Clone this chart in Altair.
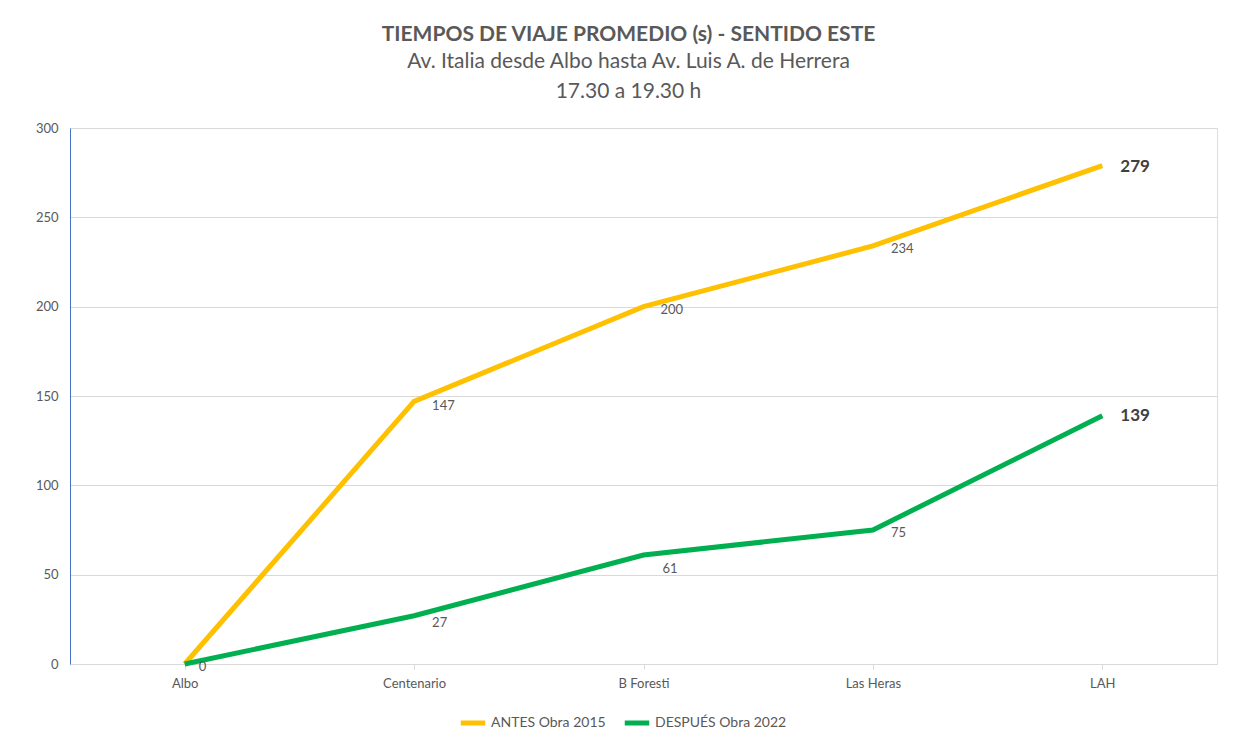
import altair as alt
import pandas as pd

categories = ["Albo", "Centenario", "B Foresti", "Las Heras", "LAH"]
antes = [0, 147, 200, 234, 279]
despues = [0, 27, 61, 75, 139]
series_names = ["ANTES Obra 2015", "DESPUÉS Obra 2022"]
colors = ["#FFC000", "#00B050"]

rows = []
for c, a, d in zip(categories, antes, despues):
    rows.append({"cat": c, "serie": series_names[0], "val": a})
    rows.append({"cat": c, "serie": series_names[1], "val": d})
df = pd.DataFrame(rows)

FONT = "Lato"
GREY = "#595959"

x_enc = alt.X("cat:N", sort=categories, title=None,
              scale=alt.Scale(type="point", padding=0.5),
              axis=alt.Axis(labelAngle=0, labelFontSize=13, labelColor=GREY, labelFont=FONT,
                            domainColor="#D9D9D9", tickColor="#D9D9D9", tickSize=5,
                            labelPadding=8, grid=False))
y_enc = alt.Y("val:Q", title=None,
              scale=alt.Scale(domain=[0, 300], nice=False),
              axis=alt.Axis(values=[0, 50, 100, 150, 200, 250, 300], labelFontSize=13,
                            labelColor=GREY, labelFont=FONT, domainColor="#4472C4",
                            ticks=False, labelPadding=12, gridColor="#D9D9D9"))

lines = alt.Chart(df).mark_line(strokeWidth=5).encode(
    x=x_enc, y=y_enc,
    color=alt.Color("serie:N", sort=series_names,
                    scale=alt.Scale(domain=series_names, range=colors),
                    legend=alt.Legend(title=None, orient="none", direction="horizontal",
                                      legendX=388, legendY=580, symbolType="stroke",
                                      symbolStrokeWidth=5, symbolSize=600,
                                      labelFontSize=14, labelColor=GREY, labelFont=FONT,
                                      columnPadding=8, labelOffset=3))
)

# label styles per point: (serie, category, dx, dy, bold)
label_specs = [
    (series_names[0], "Centenario", 18, 5, False),
    (series_names[0], "B Foresti", 17, 3, False),
    (series_names[0], "Las Heras", 18, 3, False),
    (series_names[0], "LAH", 18, 1, True),
    (series_names[1], "Albo", 14, 3, False),
    (series_names[1], "Centenario", 18, 7, False),
    (series_names[1], "B Foresti", 19, 14, False),
    (series_names[1], "Las Heras", 18, 3, False),
    (series_names[1], "LAH", 18, 0, True),
]

layers = [lines]
for s, c, dx, dy, bold in label_specs:
    t = alt.Chart(df).transform_filter(
        (alt.datum.serie == s) & (alt.datum.cat == c)
    ).mark_text(
        align="left", baseline="middle", dx=dx, dy=dy,
        font=FONT,
        fontSize=17 if bold else 13,
        fontWeight="bold" if bold else "normal",
        color="#404040" if bold else GREY,
    ).encode(x=alt.X("cat:N", sort=categories), y="val:Q", text="val:Q")
    layers.append(t)

chart = alt.layer(*layers).properties(
    width=1147, height=536,
    title=alt.TitleParams(
        text="TIEMPOS DE VIAJE PROMEDIO (s) - SENTIDO ESTE",
        subtitle=["Av. Italia desde Albo hasta Av. Luis A. de Herrera", "17.30 a 19.30 h"],
        fontSize=21, fontWeight="bold", color=GREY, font=FONT,
        subtitleFontSize=21, subtitleColor=GREY, subtitleFont=FONT,
        subtitleLineHeight=30, subtitlePadding=6,
        anchor="middle", dx=-15, offset=20,
    ),
    autosize=alt.AutoSizeParams(type="none"),
    padding={"left": 62, "top": 120, "right": 18, "bottom": 75},
).configure_view(stroke=None).configure(background="white")

chart.save("out.html", embed_options={"renderer": "svg", "actions": False})
